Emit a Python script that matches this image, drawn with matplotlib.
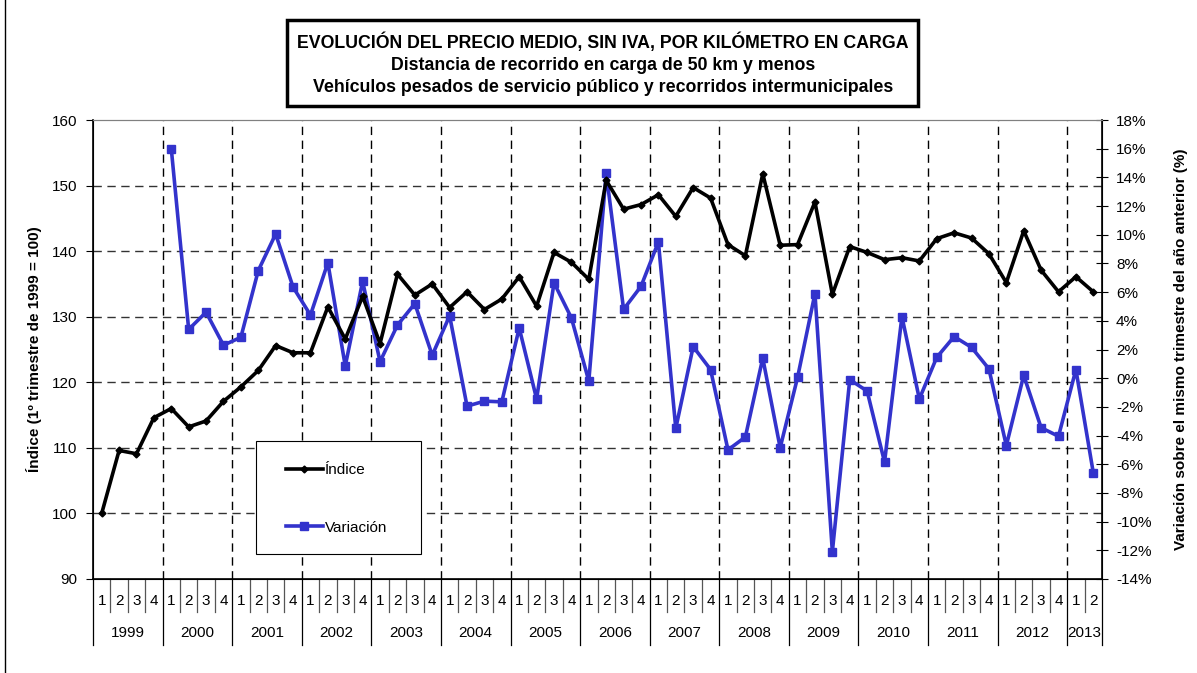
import numpy as np
import matplotlib.pyplot as plt
from matplotlib.ticker import FuncFormatter
from matplotlib.patches import Rectangle
from matplotlib.lines import Line2D

plt.rcParams['font.family'] = ['Liberation Sans', 'DejaVu Sans']

# datos
years = ['1999', '2000', '2001', '2002', '2003', '2004', '2005', '2006',
         '2007', '2008', '2009', '2010', '2011', '2012', '2013']
quarters_per_year = [4, 4, 4, 4, 4, 4, 4, 4, 4, 4, 4, 4, 4, 4, 2]

indice = [100.0, 109.6, 109.1, 114.6,
          116.0, 113.2, 114.1, 117.1,
          119.3, 121.8, 125.6, 124.5,
          124.5, 131.5, 126.6, 133.1,
          125.9, 136.5, 133.3, 135.0,
          131.4, 133.8, 131.1, 132.7,
          136.1, 131.6, 139.8, 138.3,
          135.7, 150.8, 146.4, 147.1,
          148.6, 145.3, 149.7, 148.1,
          141.0, 139.3, 151.8, 140.9,
          141.0, 147.5, 133.4, 140.7,
          139.8, 138.7, 139.0, 138.5,
          141.9, 142.8, 142.0, 139.6,
          135.2, 143.1, 137.1, 133.8,
          136.1, 133.8]

variacion = [None, None, None, None,
             16.0, 3.4, 4.6, 2.3,
             2.85, 7.5, 10.05, 6.35,
             4.4, 8.05, 0.85, 6.75,
             1.15, 3.7, 5.2, 1.6,
             4.35, -1.95, -1.6, -1.65,
             3.5, -1.45, 6.65, 4.2,
             -0.2, 14.3, 4.8, 6.4,
             9.5, -3.5, 2.2, 0.6,
             -5.0, -4.1, 1.4, -4.85,
             0.05, 5.9, -12.1, -0.1,
             -0.9, -5.85, 4.3, -1.45,
             1.45, 2.9, 2.15, 0.65,
             -4.7, 0.2, -3.45, -4.05,
             0.6, -6.6]

n = len(indice)
x = np.arange(n)
var = np.array([np.nan if v is None else v for v in variacion])

W, H = 1197, 673
fig = plt.figure(figsize=(W / 100, H / 100), dpi=100)
ax = fig.add_axes([93 / W, 1 - 579 / H, (1102 - 93) / W, 459 / H])
ax2 = ax.twinx()

FS = 11

# rejilla
ax.set_ylim(90, 160)
ax.set_xlim(-0.5, n - 0.5)
ax.set_yticks(np.arange(90, 161, 10))
for v in range(100, 160, 10):
    ax.axhline(v, color='#333333', lw=1, ls=(0, (6, 4)), zorder=1)
pos = -0.5
for q in quarters_per_year[:-1]:
    pos += q
    ax.axvline(pos, color='black', lw=1, ls=(0, (6, 4)), zorder=1)

ax2.set_ylim(-14, 18)
ax2.set_yticks(np.arange(-14, 19, 2))
ax2.yaxis.set_major_formatter(FuncFormatter(lambda v, p: f'{v:.0f}%'))

ax2.set_zorder(ax.get_zorder() + 1)
ax2.patch.set_visible(False)
ax2.plot(x, var, color='#3333CC', lw=2.6, marker='s', ms=6, zorder=3)
# el índice se dibuja en ax2 convertido a su escala para quedar encima
ax2.plot(x, np.interp(indice, [90, 160], [-14, 18]), color='black', lw=2.6,
         marker='D', ms=3.5, zorder=4)

ax.tick_params(axis='y', direction='out', length=5, labelsize=FS, pad=6)
ax.tick_params(axis='x', bottom=False, labelbottom=False)
ax2.tick_params(axis='y', direction='inout', length=8, labelsize=FS, pad=6)
ax.spines['top'].set_color('#808080')
ax2.spines['top'].set_color('#808080')
for s in ['left', 'bottom']:
    ax.spines[s].set_linewidth(1.2)
ax2.spines['right'].set_linewidth(1.2)

# eje x de dos niveles
tr = ax.get_xaxis_transform()
i = 0
for yr, q in zip(years, quarters_per_year):
    for k in range(q):
        ax.text(i + k, -0.048, str(k + 1), transform=tr, ha='center',
                va='center', fontsize=FS)
        if k > 0:
            ax.plot([i + k - 0.5] * 2, [0, -0.072], transform=tr,
                    color='#555555', lw=0.9, clip_on=False)
    ax.text(i + (q - 1) / 2, -0.118, yr, transform=tr, ha='center',
            va='center', fontsize=FS)
    ax.plot([i - 0.5] * 2, [0, -0.144], transform=tr, color='black',
            lw=0.9, clip_on=False)
    i += q
ax.plot([n - 0.5] * 2, [0, -0.144], transform=tr, color='black',
        lw=0.9, clip_on=False)

ax.set_ylabel('Índice (1º trimestre de 1999 = 100)', fontsize=FS,
              fontweight='bold', labelpad=7)
ax2.set_ylabel('Variación sobre el mismo trimestre del año anterior (%)',
               fontsize=FS, fontweight='bold', labelpad=16)

# leyenda
ax2.add_patch(Rectangle((256 / W, 1 - 554 / H), (421 - 256) / W,
                        (554 - 441) / H, transform=fig.transFigure,
                        facecolor='white', edgecolor='black', lw=0.8,
                        zorder=5, clip_on=False))
h1 = Line2D([], [], color='black', lw=2.6, marker='D', ms=3.5)
h2 = Line2D([], [], color='#3333CC', lw=2.6, marker='s', ms=6)
leg = ax2.legend([h1, h2], ['Índice', 'Variación'], loc='upper left',
                 bbox_to_anchor=(286 / W, 1 - 463 / H),
                 bbox_transform=fig.transFigure, fontsize=FS,
                 frameon=False, labelspacing=2.85, handlelength=2.4,
                 handletextpad=0.15, borderpad=0, borderaxespad=0)
leg.set_zorder(6)

# título
fig.patches.append(Rectangle((287 / W, 1 - 106 / H), (918 - 287) / W,
                             86 / H, transform=fig.transFigure,
                             facecolor='white', edgecolor='black', lw=2.5))
tit = ['EVOLUCIÓN DEL PRECIO MEDIO, SIN IVA, POR KILÓMETRO EN CARGA',
       'Distancia de recorrido en carga de 50 km y menos',
       'Vehículos pesados de servicio público y recorridos intermunicipales']
for t, yy in zip(tit, [42, 65, 88]):
    fig.text(603 / W, 1 - yy / H, t, ha='center', va='center',
             fontsize=12.8, fontweight='bold')

fig.add_artist(Line2D([5 / W, 5 / W], [0, 1], color='black', lw=1,
                      transform=fig.transFigure))

fig.savefig('out.png', dpi=100)
